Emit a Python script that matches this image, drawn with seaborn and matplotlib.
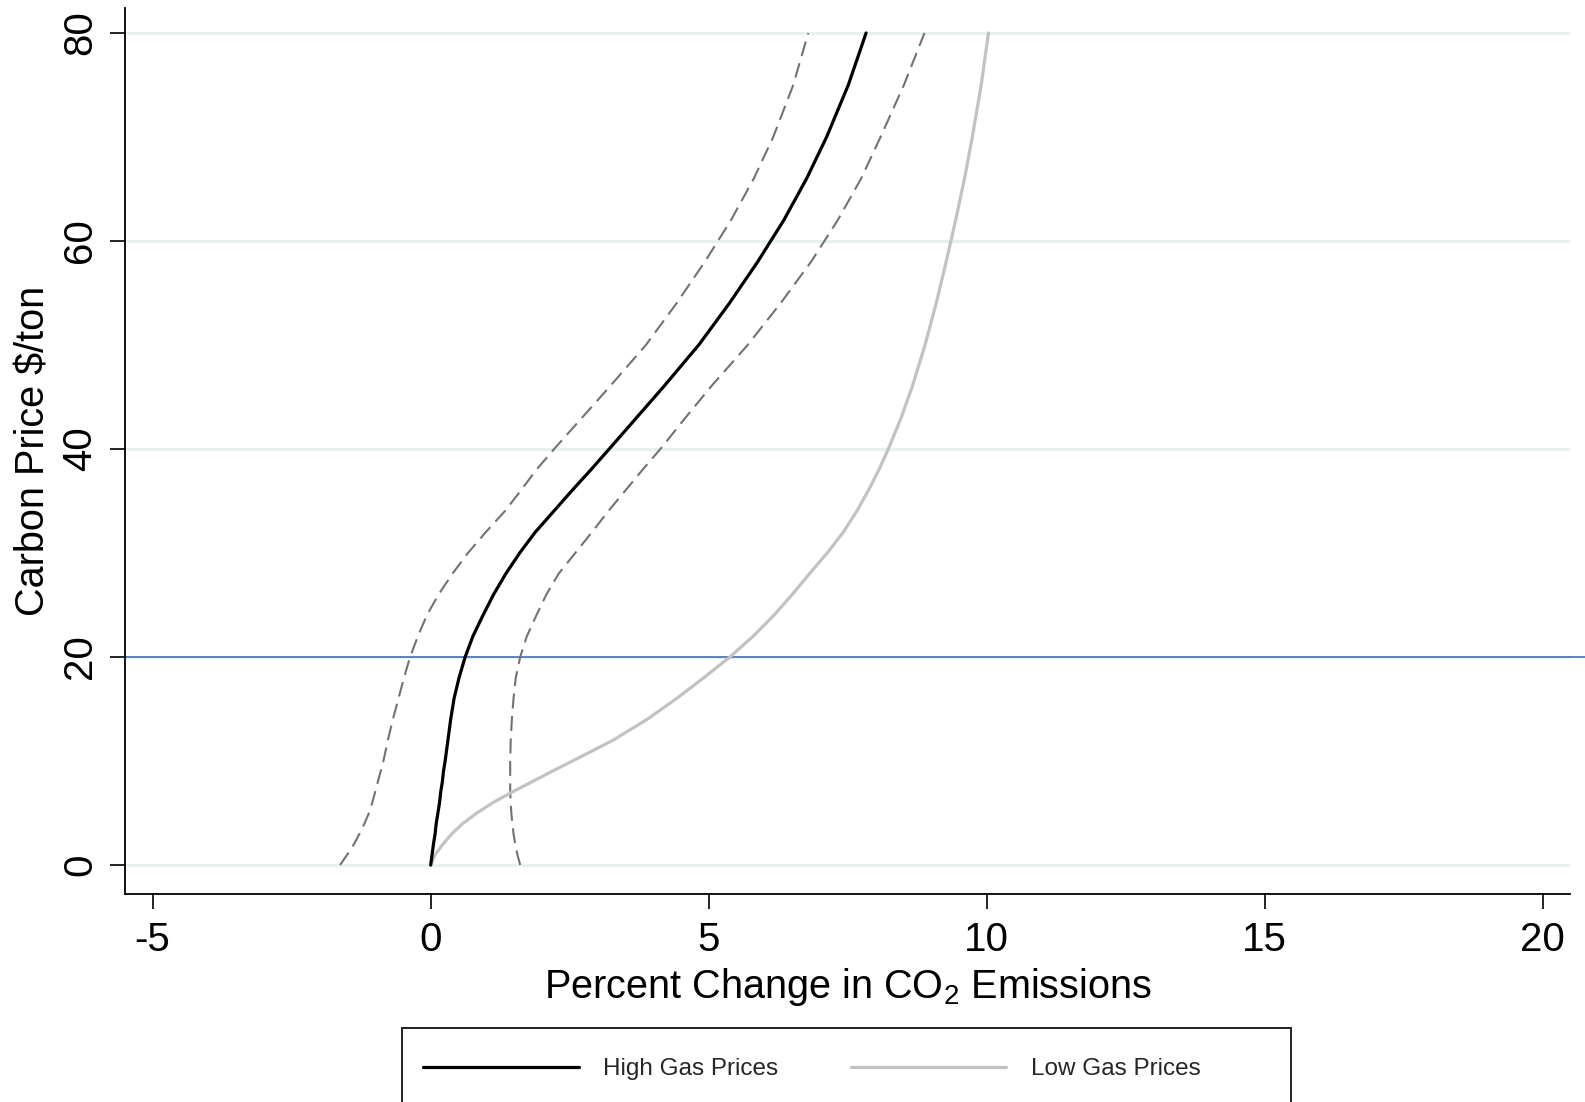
import numpy as np
import pandas as pd
import seaborn as sns
import matplotlib.pyplot as plt
from matplotlib.lines import Line2D
from matplotlib.patches import Rectangle

# Carbon price ($/ton) at which each emissions response is evaluated
carbon_price = [0, 1, 2, 3, 4, 5, 6, 7, 8, 9, 10, 12, 14, 16, 18, 20, 22, 24, 26, 28,
                30, 32, 34, 36, 38, 40, 43, 46, 50, 54, 58, 62, 66, 70, 75, 80]

# Percent change in CO2 emissions, high gas price scenario (point estimate)
high_gas = [0.00, 0.025, 0.05, 0.08, 0.10, 0.13, 0.16, 0.18, 0.21, 0.23, 0.26, 0.31, 0.36,
            0.42, 0.51, 0.62, 0.76, 0.94, 1.13, 1.35, 1.60, 1.88, 2.21, 2.54, 2.88, 3.21,
            3.70, 4.19, 4.82, 5.37, 5.88, 6.35, 6.76, 7.12, 7.51, 7.83]

# Confidence band around the high gas price estimate
high_gas_lower = [-1.63, -1.50, -1.38, -1.28, -1.19, -1.11, -1.05, -1.00, -0.95, -0.90,
                  -0.85, -0.77, -0.68, -0.58, -0.48, -0.37, -0.23, -0.07, 0.14, 0.39,
                  0.67, 0.99, 1.33, 1.62, 1.90, 2.22, 2.72, 3.22, 3.87, 4.42, 4.93, 5.40,
                  5.81, 6.16, 6.52, 6.79]
high_gas_upper = [1.61, 1.56, 1.52, 1.49, 1.47, 1.45, 1.44, 1.43, 1.43, 1.43, 1.43, 1.44,
                  1.46, 1.49, 1.53, 1.61, 1.73, 1.90, 2.08, 2.30, 2.60, 2.90, 3.19, 3.50,
                  3.81, 4.13, 4.58, 5.04, 5.70, 6.29, 6.84, 7.32, 7.74, 8.09, 8.51, 8.88]

# Percent change in CO2 emissions, low gas price scenario
low_gas = [0.00, 0.08, 0.22, 0.38, 0.58, 0.83, 1.12, 1.46, 1.82, 2.18, 2.55, 3.28, 3.89,
           4.42, 4.91, 5.38, 5.80, 6.17, 6.50, 6.81, 7.13, 7.42, 7.66, 7.87, 8.06, 8.23,
           8.46, 8.66, 8.89, 9.09, 9.27, 9.44, 9.60, 9.74, 9.90, 10.03]

x_ticks = [-5, 0, 5, 10, 15, 20]
y_ticks = [0, 20, 40, 60, 80]
reference_price = 20

df = pd.DataFrame({
    "price": carbon_price,
    "high": high_gas,
    "high_lo": high_gas_lower,
    "high_hi": high_gas_upper,
    "low": low_gas,
})

sns.set_theme(style="white")
plt.rcParams["font.family"] = ["Liberation Sans", "DejaVu Sans"]
plt.rcParams["mathtext.default"] = "regular"

fig = plt.figure(figsize=(15.85, 11.02), dpi=100)
ax = fig.add_axes([0.0791, 0.1891, 0.9115, 0.8036])

ax.set_xlim(-5.49, 20.49)
ax.set_ylim(-2.75, 82.4)

# light horizontal grid
for yv in y_ticks:
    ax.axhline(yv, color="#e8f0f1", lw=2.2, zorder=0)

# reference carbon price
ax.axhline(reference_price, xmin=0, xmax=1.02, color="#4a7cc2", lw=1.3,
           zorder=1, clip_on=False)

dash_color = "#727272"
for col in ["high_lo", "high_hi"]:
    sns.lineplot(data=df, x=col, y="price", sort=False, estimator=None,
                 color=dash_color, lw=1.5, ax=ax, zorder=2)
    ax.lines[-1].set_dashes((7.2, 3.6))

sns.lineplot(data=df, x="low", y="price", sort=False, estimator=None,
             color="#c2c2c2", lw=2.3, ax=ax, zorder=3)
sns.lineplot(data=df, x="high", y="price", sort=False, estimator=None,
             color="black", lw=2.3, ax=ax, zorder=4)

ax.set_xticks(x_ticks)
ax.set_yticks(y_ticks)
ax.set_xticklabels([str(v) for v in x_ticks])
ax.set_yticklabels([str(v) for v in y_ticks], rotation=90, va="center")
ax.tick_params(axis="both", which="major", direction="out", length=11, width=1.2,
               color="black", labelsize=29, labelcolor="black", bottom=True, left=True)
ax.tick_params(axis="x", pad=9)
ax.tick_params(axis="y", pad=8)

ax.set_xlabel("Percent Change in CO$_2$ Emissions", fontsize=28.5, labelpad=5,
              color="black")
ax.set_ylabel("Carbon Price $/ton", fontsize=28.5, labelpad=6, color="black")

for side in ["top", "right"]:
    ax.spines[side].set_visible(False)
for side in ["left", "bottom"]:
    ax.spines[side].set_color("black")
    ax.spines[side].set_linewidth(1.3)

# legend
handles = [Line2D([], [], color="black", lw=2.3),
           Line2D([], [], color="#c2c2c2", lw=2.3)]
fig.legend(handles, ["High Gas Prices", "Low Gas Prices"], loc="center left",
           bbox_to_anchor=(423 / 1585, 1 - 1069 / 1102), ncol=2, frameon=False,
           fontsize=17.5, handlelength=6.4, handletextpad=1.0, columnspacing=3.0,
           borderpad=0, borderaxespad=0)
fig.add_artist(Rectangle((402 / 1585, -0.05), (1291 - 402) / 1585,
                         0.05 + 1 - 1028 / 1102, transform=fig.transFigure,
                         fill=False, edgecolor="#222222", lw=1.4))

fig.savefig("out.png", dpi=100)
